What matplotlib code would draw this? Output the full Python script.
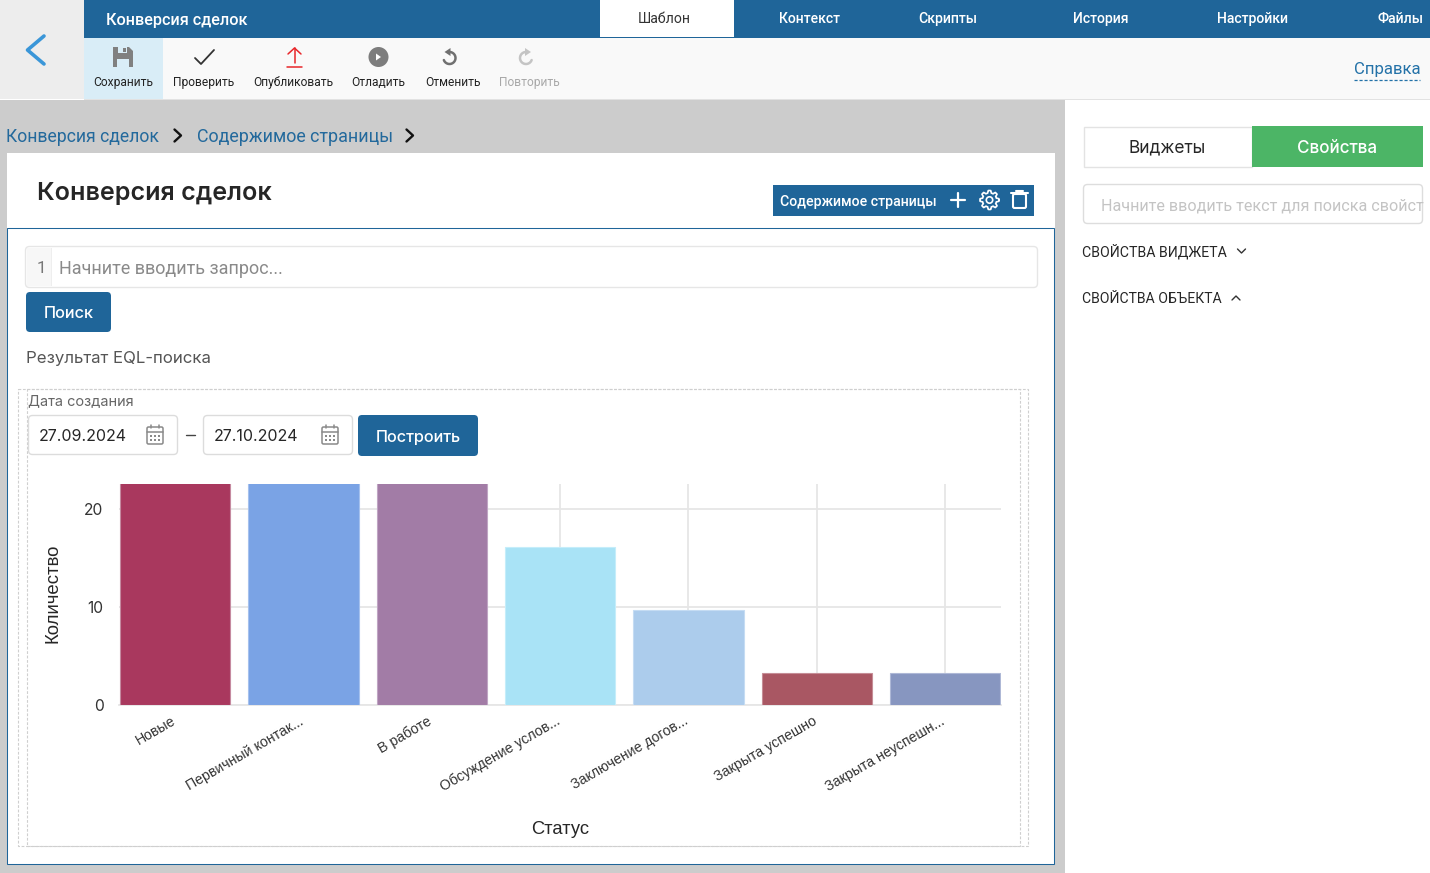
#!/usr/bin/env python
"""Rebuild the deal conversion page screenshot with its bar chart."""

import matplotlib
matplotlib.use("Agg")
import matplotlib.pyplot as plt
from matplotlib.patches import Circle, FancyBboxPatch, Polygon, Rectangle
from matplotlib.transforms import ScaledTranslation
import numpy as np

STATUSES = [
    "Новые",
    "Первичный контак...",
    "В работе",
    "Обсуждение услов...",
    "Заключение догов...",
    "Закрыта успешно",
    "Закрыта неуспешн...",
]
COUNTS = [23, 23, 23, 16.1, 9.7, 3.3, 3.3]
BAR_COLORS = ["#a9385e", "#7aa3e5", "#a27ca6", "#a9e3f6", "#acccec", "#a95763", "#8796c0"]
BAR_EDGES = ["#c58aa0", "#a5c1ee", "#c0a5c4", "#c5edfa", "#c5dcf3", "#c58d96", "#aeb8d6"]
Y_TICKS = [0, 10, 20]

TOP_TABS = [("Контекст", 809), ("Скрипты", 948), ("История", 1101), ("Настройки", 1253), ("Файлы", 1400)]
TOOLBAR = [
    ("Сохранить", 123.5, "#222222"),
    ("Проверить", 203.5, "#222222"),
    ("Опубликовать", 293, "#222222"),
    ("Отладить", 378.5, "#222222"),
    ("Отменить", 452.5, "#222222"),
    ("Повторить", 529.5, "#a8a8a8"),
]

BLUE = "#1f6599"
FONT = "Inter"
W, H = 1430, 873
PX = 0.72  # font size in points for one pixel at dpi 100


def rect(ax, x0, y0, x1, y1, color, edge="none", lw=0, z=1):
    ax.add_patch(Rectangle((x0, y0), x1 - x0, y1 - y0, facecolor=color, edgecolor=edge, linewidth=lw, zorder=z))


def rounded(ax, x0, y0, x1, y1, color, edge="none", lw=0, r=4, z=2):
    ax.add_patch(FancyBboxPatch((x0 + r, y0 + r), x1 - x0 - 2 * r, y1 - y0 - 2 * r,
                                boxstyle=f"round,pad={r},rounding_size={r}",
                                facecolor=color, edgecolor=edge, linewidth=lw, zorder=z))


def label(ax, x, y, text, px, color="#222222", ha="left", weight="normal", family=FONT, **kwargs):
    return ax.text(x, y - 0.8, text, fontsize=px * PX, color=color, ha=ha, va="center_baseline",
                   fontweight=weight, family=family, zorder=6, **kwargs)


def line(ax, xs, ys, color, lw=1.5, **kwargs):
    ax.plot(xs, ys, color=color, lw=lw, solid_capstyle="round", solid_joinstyle="round", zorder=5, **kwargs)


def calendar(ax, x, y):
    c = "#8a8a8a"
    rounded(ax, x - 8, y - 8, x + 8, y + 9, "none", c, 1.1, r=1.5, z=5)
    line(ax, [x - 8, x + 8], [y - 3.5, y - 3.5], c, 1.1)
    line(ax, [x - 4, x - 4], [y - 10, y - 7], c, 1.1)
    line(ax, [x + 4, x + 4], [y - 10, y - 7], c, 1.1)
    for dx in (-4, 0, 4):
        for dy in (1, 4.5):
            rect(ax, x + dx - 1, y + dy - 1, x + dx + 1, y + dy + 1, c, z=5)


def gear(ax, x, y):
    angles = np.linspace(0, 2 * np.pi, 97)
    radius = 8.3 + 1.2 * np.clip(3 * np.cos(8 * angles), -1, 1)
    line(ax, x + radius * np.cos(angles), y + radius * np.sin(angles), "white", 1.2)
    ax.add_patch(Circle((x, y), 3.2, fill=False, edgecolor="white", linewidth=1.2, zorder=5))


def undo_icon(ax, x, y, color, flip=1):
    # flip=1 runs clockwise from the top, flip=-1 is the mirrored redo arrow
    t = np.radians(np.linspace(0, 250, 40))
    line(ax, x + flip * 6 * np.sin(t), y + 2 - 6 * np.cos(t), color, 1.8)
    ax.add_patch(Polygon([[x + flip * 1, y - 8], [x + flip * 1, y], [x - flip * 5, y - 4]],
                         facecolor=color, zorder=5))


def draw_toolbar(ax):
    rect(ax, 0, 0, 84, 99, "#ededed")
    line(ax, [44, 27.5, 44], [36, 50, 64], "#3a96d8", 2.6)
    rect(ax, 84, 0, W, 38, BLUE)
    rect(ax, 84, 38, W, 99, "#f9f9f9")
    rect(ax, 84, 38, 163, 99, "#d9edf7")
    rect(ax, 84, 99, W, 100, "#e2e2e2")
    rect(ax, 600, 0, 734, 37, "white")
    label(ax, 106, 19.5, "Конверсия сделок", 16.3, "white", weight="medium", family="Roboto")
    label(ax, 664, 18, "Шаблон", 14, "#333333", ha="center", family="Roboto")
    for name, x in TOP_TABS:
        label(ax, x, 18, name, 14, "white", ha="center", weight="medium", family="Roboto")
    for name, x, color in TOOLBAR:
        label(ax, x, 82, name, 12, color, ha="center", family="Roboto")
    # save
    ax.add_patch(Polygon([[113, 47], [129, 47], [133, 51], [133, 67], [113, 67]], facecolor="#808080", zorder=5))
    rect(ax, 118, 47, 127, 53, "#d9edf7", z=5)
    rect(ax, 123, 48, 126, 52, "#808080", z=5)
    rect(ax, 117, 59, 129, 67, "#d9edf7", z=5)
    # check
    line(ax, [195, 201, 214], [58, 64, 50], "#333333", 1.3)
    # publish
    line(ax, [294.5, 294.5], [48, 63], "#e8262a", 1.1)
    line(ax, [288, 294.5, 301], [54, 48, 54], "#e8262a", 1.1)
    line(ax, [287, 302], [66.5, 66.5], "#e8262a", 1.1)
    # debug
    ax.add_patch(Circle((378.5, 57), 10, facecolor="#7d7d7d", zorder=5))
    ax.add_patch(Polygon([[376, 53.5], [376, 60.5], [381, 57]], facecolor="white", zorder=6))
    undo_icon(ax, 449.5, 56, "#707070", 1)
    undo_icon(ax, 526, 56, "#c4c4c4", -1)
    # help link
    label(ax, 1354, 68.5, "Справка", 16.8, "#2472a8", family="Roboto")
    ax.plot([1354, 1420], [80, 80], color="#2472a8", lw=0.9, ls=(0, (2.5, 1.5)), zorder=5)


def draw_page(ax):
    rect(ax, 0, 100, 1065, H, "#cccccc")
    rect(ax, 1065, 100, W, H, "white")
    label(ax, 6, 136, "Конверсия сделок", 17.6, "#23699c", family="Roboto")
    label(ax, 197, 136, "Содержимое страницы", 17.9, "#23699c", family="Roboto")
    line(ax, [174.5, 181, 174.5], [129.5, 135.5, 141.5], "#111111", 1.7)
    line(ax, [406.5, 413, 406.5], [129.5, 135.5, 141.5], "#111111", 1.7)

    rect(ax, 7, 153, 1055, 229, "white")
    rect(ax, 7, 228, 1054, 864, "white", BLUE, 0.75)
    label(ax, 37, 191.5, "Конверсия сделок", 25.1, "#262626", weight="semibold")

    rect(ax, 773, 185, 1034, 216, BLUE)
    label(ax, 780, 201.5, "Содержимое страницы", 14.1, "white", weight="medium", family="Roboto")
    line(ax, [958, 958], [193, 207], "white", 1.6)
    line(ax, [951, 965], [200, 200], "white", 1.6)
    gear(ax, 989.5, 200)
    rounded(ax, 1013, 194, 1026, 208, "none", "white", 1.5, r=1.5, z=5)
    line(ax, [1011, 1028], [193, 193], "white", 1.5)
    line(ax, [1016, 1023], [190.5, 190.5], "white", 1.5)

    rounded(ax, 25.5, 246.5, 1037.5, 287.5, "white", "#e6e6e6", 1)
    rect(ax, 27, 248, 51, 286, "#f7f7f7", z=3)
    rect(ax, 51, 248, 52, 286, "#eeeeee", z=3)
    label(ax, 41.5, 268, "1", 17, "#777777", ha="center", family="Roboto")
    label(ax, 59, 268, "Начните вводить запрос...", 18, "#8a8a8a", family="Roboto")

    rounded(ax, 26, 292, 111, 332, BLUE)
    label(ax, 68.5, 312.5, "Поиск", 16.3, "white", ha="center", weight="medium")
    label(ax, 26, 357.5, "Результат EQL-поиска", 16.8, "#555555")

    dash = dict(facecolor="none", edgecolor="#cfcfcf", linewidth=0.8, linestyle=(0, (2.5, 1.5)), zorder=2)
    ax.add_patch(Rectangle((18, 389), 1010, 457, **dash))
    ax.add_patch(Rectangle((27, 389), 993, 457, **dash))

    label(ax, 27.5, 400, "Дата создания", 14.5, "#666666")
    rounded(ax, 28.5, 415.5, 177.5, 454.5, "white", "#dcdcdc", 1)
    rounded(ax, 203.5, 415.5, 352.5, 454.5, "white", "#dcdcdc", 1)
    label(ax, 38.5, 435.5, "27.09.2024", 16, "#262626")
    label(ax, 213.5, 435.5, "27.10.2024", 16, "#262626")
    calendar(ax, 155, 435)
    calendar(ax, 330, 435)
    line(ax, [186, 195], [435, 435], "#444444", 1)
    rounded(ax, 358, 415, 478, 456, BLUE)
    label(ax, 418, 436.5, "Построить", 16.2, "white", ha="center", weight="medium")


def draw_sidebar(ax):
    rect(ax, 1083.5, 126.5, 1252, 167, "white", "#e3e3e3", 1)
    rect(ax, 1252, 126, 1423, 167, "#4cb566")
    label(ax, 1167, 147, "Виджеты", 17.3, "#262626", ha="center")
    label(ax, 1337, 147, "Свойства", 17.1, "white", ha="center", weight="medium")
    rounded(ax, 1083.5, 184.5, 1422.5, 223.5, "white", "#dddddd", 1)
    # the placeholder is cut by the field in the screenshot, only this much shows
    label(ax, 1101, 205.5, "Начните вводить текст для поиска свойст", 16.1, "#c4c4c4", family="Roboto")
    label(ax, 1082.5, 251, "СВОЙСТВА ВИДЖЕТА", 14.15, "#262626", family="Roboto")
    label(ax, 1082.5, 298.5, "СВОЙСТВА ОБЪЕКТА", 14, "#262626", family="Roboto")
    line(ax, [1237.5, 1241.5, 1245.5], [249, 253, 249], "#333333", 1.0)
    line(ax, [1232, 1236, 1240], [300, 296, 300], "#333333", 1.0)


def draw_chart(fig):
    left, right, top, bottom = 119.4, 1000.9, 484, 705
    ax = fig.add_axes([left / W, 1 - bottom / H, (right - left) / W, (bottom - top) / H], zorder=3)
    ax.patch.set_alpha(0)
    x = np.arange(len(STATUSES))
    ax.bar(x, COUNTS, width=0.86, color=BAR_COLORS, edgecolor=BAR_EDGES, linewidth=0.8, zorder=3)
    ax.set_xlim(-0.435, 6.435)
    ax.set_ylim(0, 221 / 9.8)
    ax.grid(True, color="#e6e6e6", linewidth=1.3, zorder=0)
    ax.set_axisbelow(True)
    for spine in ax.spines.values():
        spine.set_visible(False)
    ax.set_yticks(Y_TICKS)
    ax.set_xticks(x)
    ax.set_xticklabels(STATUSES, rotation=30, ha="right", rotation_mode="anchor",
                       fontsize=14.1 * PX, color="#333333", family="Liberation Sans")
    ax.tick_params(axis="x", length=0, pad=6.5)
    ax.tick_params(axis="y", length=0, pad=11.5, labelsize=15.6 * PX, labelcolor="#333333")
    shift = ScaledTranslation(-4.5 / 100, 0, fig.dpi_scale_trans)
    for tick in ax.get_xticklabels():
        tick.set_transform(tick.get_transform() + shift)
    for tick in ax.get_yticklabels():
        tick.set_family(FONT)
    ax.axhline(0, color="#e6e6e6", lw=1.3, zorder=1, clip_on=False)
    fig.text(53 / W, 1 - 593.5 / H, "Количество", rotation=90, ha="center", va="center",
             fontsize=18.6 * PX, color="#262626", family="Liberation Sans", zorder=5)
    fig.text(560.5 / W, 1 - 830 / H, "Статус", ha="center", va="center",
             fontsize=18.4 * PX, color="#262626", family="Liberation Sans", zorder=5)


def main():
    fig = plt.figure(figsize=(W / 100, H / 100), dpi=100, facecolor="white")
    ui = fig.add_axes([0, 0, 1, 1], zorder=1)
    ui.set_xlim(0, W)
    ui.set_ylim(H, 0)
    ui.axis("off")
    draw_toolbar(ui)
    draw_page(ui)
    draw_sidebar(ui)
    ui.set_xlim(0, W)
    ui.set_ylim(H, 0)
    draw_chart(fig)
    fig.savefig("out.png", dpi=100, facecolor="white")
    plt.close(fig)


if __name__ == "__main__":
    main()
